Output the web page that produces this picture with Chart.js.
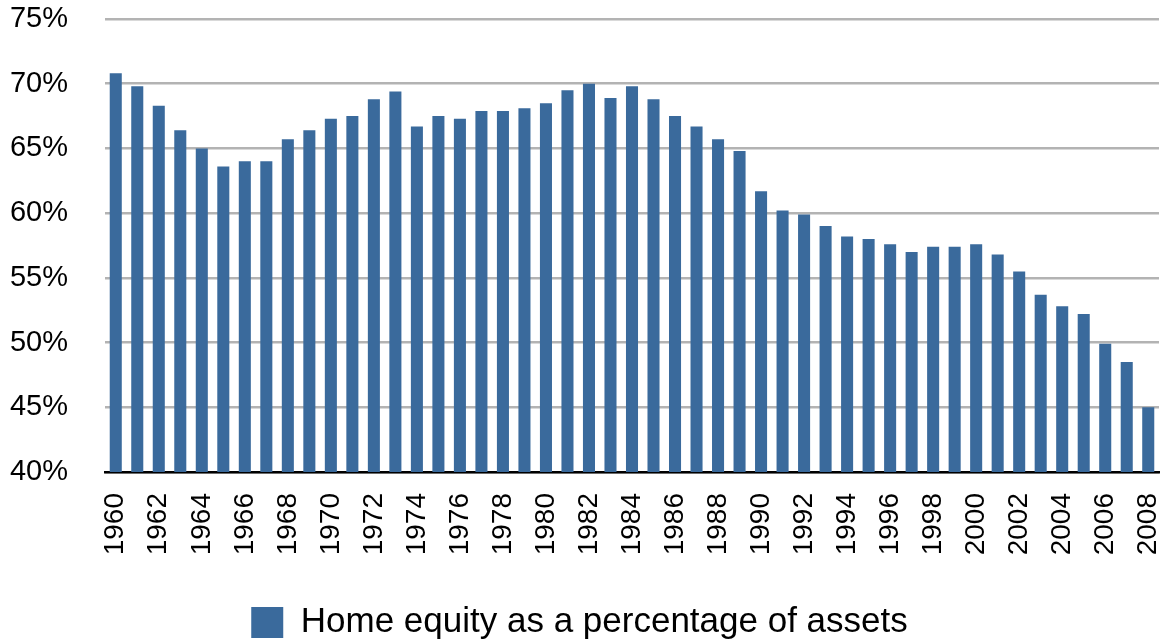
<!DOCTYPE html>
<html>
<head>
<meta charset="utf-8">
<script src="https://cdn.jsdelivr.net/npm/chart.js@4/dist/chart.umd.min.js"></script>
<style>
    html, body { margin: 0; padding: 0; background: #fff; }
    #wrap { width: 1167px; height: 644px; position: relative; }
</style>
</head>
<body>
<div id="wrap"><canvas id="equityChart"></canvas></div>
<script>
const years = [];
for (let y = 1960; y <= 2008; y++) {
    years.push(String(y));
}

const equityPct = [
    70.8, 69.8, 68.3, 66.4, 65.0, 63.6, 64.0, 64.0, 65.7, 66.4,
    67.3, 67.5, 68.8, 69.4, 66.7, 67.5, 67.3, 67.9, 67.9, 68.1,
    68.5, 69.5, 70.0, 68.9, 69.8, 68.8, 67.5, 66.7, 65.7, 64.8,
    61.7, 60.2, 59.9, 59.0, 58.2, 58.0, 57.6, 57.0, 57.4, 57.4,
    57.6, 56.8, 55.5, 53.7, 52.8, 52.2, 49.9, 48.5, 45.0
];

const yTicks = [40, 45, 50, 55, 60, 65, 70, 75];

const font = "'Liberation Sans', Arial, Helvetica, sans-serif";
const barColor = "#3a6a9c";

// keep the plot area where the original has it
function noScalePadding(scale) {
    scale.paddingLeft = 0;
    scale.paddingRight = 0;
    scale.paddingTop = 0;
    scale.paddingBottom = 0;
}

new Chart(document.getElementById("equityChart"), {
    type: "bar",
    data: {
        labels: years,
        datasets: [{
            label: "Home equity as a percentage of assets",
            data: equityPct,
            backgroundColor: barColor,
            borderWidth: 0,
            categoryPercentage: 1,
            barPercentage: 0.56
        }]
    },
    options: {
        responsive: true,
        maintainAspectRatio: false,
        animation: false,
        layout: {
            padding: { top: 19, left: 0, right: 8, bottom: -6 }
        },
        plugins: {
            tooltip: { enabled: false },
            legend: {
                position: "bottom",
                labels: {
                    boxWidth: 32,
                    boxHeight: 31,
                    padding: 1,
                    color: "#000",
                    font: { family: font, size: 35 }
                }
            }
        },
        scales: {
            x: {
                grid: { display: false, drawTicks: false },
                border: { color: "#000", width: 2.5 },
                ticks: {
                    autoSkip: false,
                    minRotation: 90,
                    maxRotation: 90,
                    padding: 21,
                    color: "#000",
                    font: { family: font, size: 28 },
                    callback: function (value, index) {
                        return index % 2 === 0 ? this.getLabelForValue(value) : "";
                    }
                },
                afterFit: function (scale) {
                    scale.height = 132;
                    noScalePadding(scale);
                }
            },
            y: {
                min: 40,
                max: 75,
                afterBuildTicks: function (scale) {
                    scale.ticks = yTicks.map(v => ({ value: v }));
                },
                grid: { color: "#b3b3b3", lineWidth: 2.5, drawTicks: false },
                border: { display: false },
                ticks: {
                    padding: 37,
                    color: "#000",
                    font: { family: font, size: 29 },
                    callback: function (value) {
                        return value + "%";
                    }
                },
                afterFit: function (scale) {
                    scale.width = 105;
                    noScalePadding(scale);
                }
            }
        }
    }
});
</script>
</body>
</html>
